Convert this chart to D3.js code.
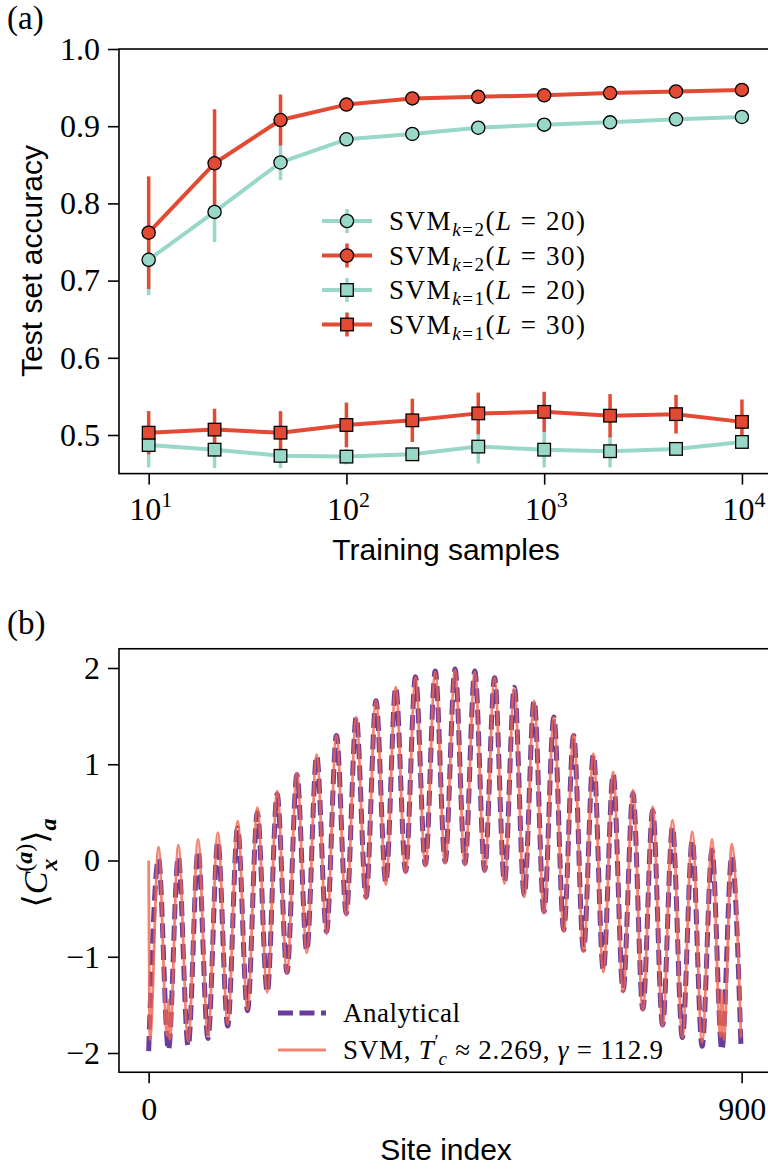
<!DOCTYPE html>
<html>
<head>
<meta charset="utf-8">
<script src="https://cdn.jsdelivr.net/npm/d3@7"></script>
<style>
  body { margin: 0; background: #fff; }
  svg { display: block; }
</style>
</head>
<body>
<svg id="chart" width="768" height="1170"></svg>
<script>
// ---- panel (a) data ----
const trainingSamples = [10, 21.54, 46.42, 100, 215.4, 464.2, 1000, 2154, 4642, 10000];
const accK2L20 = [0.727, 0.789, 0.853, 0.883, 0.890, 0.898, 0.902, 0.905, 0.909, 0.912];
const errK2L20 = [0.046, 0.039, 0.023, 0.006, 0.004, 0.004, 0.003, 0.003, 0.003, 0.003];
const accK2L30 = [0.762, 0.852, 0.908, 0.928, 0.936, 0.938, 0.940, 0.943, 0.945, 0.947];
const errK2L30 = [0.073, 0.070, 0.033, 0.005, 0.004, 0.003, 0.003, 0.003, 0.002, 0.002];
const accK1L20 = [0.487, 0.481, 0.473, 0.472, 0.475, 0.485, 0.481, 0.479, 0.482, 0.491];
const errK1L20 = [0.029, 0.024, 0.016, 0.010, 0.008, 0.022, 0.023, 0.021, 0.006, 0.005];
const accK1L30 = [0.503, 0.507, 0.503, 0.513, 0.519, 0.528, 0.530, 0.525, 0.527, 0.517];
const errK1L30 = [0.028, 0.027, 0.028, 0.029, 0.028, 0.027, 0.026, 0.028, 0.025, 0.029];
const yTicksA = [0.5, 0.6, 0.7, 0.8, 0.9, 1.0];
const xTicksA = [10, 100, 1000, 10000];
const xTickExpA = ["1", "2", "3", "4"];

// ---- panel (b) data: extrema ----
const troughSites = [0, 30, 60, 90, 120, 150, 180, 210, 240, 270, 300, 330, 360, 390, 420,
  450, 480, 510, 540, 570, 600, 630, 660, 690, 720, 750, 780, 810, 840, 870];
const peakSites = [15, 45, 75, 105, 135, 165, 195, 225, 255, 285, 315, 345, 375, 405, 435,
  465, 495, 525, 555, 585, 615, 645, 675, 705, 735, 765, 795, 825, 855, 885];
const analyticTroughs = [-1.98, -1.97, -1.93, -1.85, -1.72, -1.56, -1.37, -1.16, -0.94, -0.74,
  -0.55, -0.38, -0.23, -0.11, -0.04, -0.01, -0.03, -0.10, -0.22, -0.36,
  -0.53, -0.72, -0.93, -1.14, -1.35, -1.54, -1.71, -1.84, -1.93, -1.97];
const analyticPeaks = [0.02, 0.04, 0.10, 0.20, 0.34, 0.50, 0.69, 0.89, 1.09, 1.30,
  1.49, 1.66, 1.80, 1.91, 1.97, 1.99, 1.97, 1.90, 1.80, 1.66,
  1.49, 1.30, 1.10, 0.90, 0.70, 0.52, 0.35, 0.21, 0.11, 0.05];
const analyticEnd = [899, -1.94];
const svmTroughs = [0.00, -1.45, -1.88, -1.82, -1.70, -1.55, -1.37, -1.17, -0.96, -0.76,
  -0.57, -0.40, -0.25, -0.13, -0.06, -0.03, -0.05, -0.12, -0.24, -0.38,
  -0.55, -0.74, -0.95, -1.16, -1.37, -1.56, -1.72, -1.84, -1.89, -1.35];
const svmPeaks = [0.14, 0.16, 0.22, 0.29, 0.41, 0.55, 0.72, 0.91, 1.10, 1.30,
  1.49, 1.66, 1.80, 1.90, 1.96, 1.98, 1.96, 1.90, 1.79, 1.66,
  1.49, 1.31, 1.11, 0.92, 0.73, 0.56, 0.42, 0.30, 0.22, 0.17];
const svmExtraSites = [2, 28, 32, 868, 873, 899];
const svmExtraValues = [-1.86, -1.82, -1.86, -1.83, -1.86, -1.84];
const yTicksB = [-2, -1, 0, 1, 2];
const xTicksB = [0, 900];

const serif = '"Liberation Serif", "DejaVu Serif", serif';
const sans = '"Liberation Sans", "DejaVu Sans", sans-serif';
const teal = "#99d8c9", red = "#e34a33";
const purple = "#6a3d9a", salmon = "#f0654f";

const svg = d3.select("#chart");

function styleAxis(g) {
  g.select(".domain").remove();
  g.attr("font-family", serif).attr("font-size", 32);
  g.selectAll(".tick line").attr("stroke", "#000").attr("stroke-width", 1.6);
  g.selectAll(".tick text").attr("fill", "#000");
}

// ================= panel (a) =================
const xa = d3.scaleLog().domain([Math.pow(10, 0.85), Math.pow(10, 4.15)]).range([119, 771.6]);
const ya = d3.scaleLinear().domain([0.45, 1.0]).range([473.6, 49]);

svg.append("g")
  .attr("transform", "translate(119,0)")
  .call(d3.axisLeft(ya).tickValues(yTicksA).tickSize(11).tickPadding(8).tickFormat(d3.format(".1f")))
  .call(styleAxis);

svg.append("g")
  .attr("transform", "translate(0,473.6)")
  .call(d3.axisBottom(xa).tickValues(xTicksA).tickSize(11).tickFormat(""))
  .call(styleAxis);

const xlabA = svg.append("g");
xTicksA.forEach((t, i) => {
  const tx = xlabA.append("text")
    .attr("x", xa(t) + 2).attr("y", 520)
    .attr("text-anchor", "middle")
    .attr("font-family", serif).attr("font-size", 32);
  tx.append("tspan").text("10");
  tx.append("tspan").attr("font-size", 22).attr("dy", -13).text(xTickExpA[i]);
});

const seriesA = [
  { acc: accK2L20, err: errK2L20, color: teal, shape: "circle", k: "2", L: "20" },
  { acc: accK2L30, err: errK2L30, color: red, shape: "circle", k: "2", L: "30" },
  { acc: accK1L20, err: errK1L20, color: teal, shape: "square", k: "1", L: "20" },
  { acc: accK1L30, err: errK1L30, color: red, shape: "square", k: "1", L: "30" }
];

const plotA = svg.append("g");
// error bars first, markers stay on top
seriesA.forEach(s => {
  plotA.append("g").selectAll("line")
    .data(trainingSamples)
    .join("line")
    .attr("x1", d => xa(d)).attr("x2", d => xa(d))
    .attr("y1", (d, i) => ya(s.acc[i] - s.err[i]))
    .attr("y2", (d, i) => ya(s.acc[i] + s.err[i]))
    .attr("stroke", s.color).attr("stroke-width", 3.5);
});

const lineA = d3.line().x(d => xa(d[0])).y(d => ya(d[1]));

function drawMarker(g, shape, cx, cy, color) {
  if (shape === "circle") {
    g.append("circle").attr("cx", cx).attr("cy", cy).attr("r", 6.6)
      .attr("fill", color).attr("stroke", "#000").attr("stroke-width", 1.3);
  } else {
    g.append("rect").attr("x", cx - 6.3).attr("y", cy - 6.3).attr("width", 12.6).attr("height", 12.6)
      .attr("fill", color).attr("stroke", "#000").attr("stroke-width", 1.3);
  }
}

seriesA.forEach(s => {
  const pts = trainingSamples.map((d, i) => [d, s.acc[i]]);
  plotA.append("path").datum(pts)
    .attr("d", lineA)
    .attr("fill", "none").attr("stroke", s.color).attr("stroke-width", 4)
    .attr("stroke-linejoin", "round");
  const mg = plotA.append("g");
  pts.forEach(p => drawMarker(mg, s.shape, xa(p[0]), ya(p[1]), s.color));
});

// legend (a)
const legA = svg.append("g");
seriesA.forEach((s, i) => {
  const ry = 221 + i * 34.5;
  legA.append("line").attr("x1", 347).attr("x2", 347).attr("y1", ry - 12).attr("y2", ry + 12)
    .attr("stroke", s.color).attr("stroke-width", 3.5);
  legA.append("line").attr("x1", 322).attr("x2", 372).attr("y1", ry).attr("y2", ry)
    .attr("stroke", s.color).attr("stroke-width", 4);
  drawMarker(legA, s.shape, 347, ry, s.color);
  const t = legA.append("text").attr("x", 389).attr("y", ry + 9)
    .attr("font-family", serif).attr("font-size", 27)
    .attr("textLength", 196).attr("lengthAdjust", "spacing");
  t.append("tspan").text("SVM");
  t.append("tspan").attr("font-size", 19).attr("dy", 6).attr("font-style", "italic").text("k");
  t.append("tspan").attr("font-size", 19).text("=" + s.k);
  t.append("tspan").attr("dy", -6).text("(");
  t.append("tspan").attr("font-style", "italic").text("L");
  t.append("tspan").text(" = " + s.L + ")");
});

svg.append("rect").attr("x", 119).attr("y", 49).attr("width", 652.6).attr("height", 424.6)
  .attr("fill", "none").attr("stroke", "#000").attr("stroke-width", 1.6);

svg.append("text").attr("x", 7).attr("y", 29)
  .attr("font-family", serif).attr("font-size", 33).text("(a)");
svg.append("text")
  .attr("transform", "translate(42,261) rotate(-90)")
  .attr("text-anchor", "middle")
  .attr("font-family", sans).attr("font-size", 30).text("Test set accuracy");
svg.append("text").attr("x", 446).attr("y", 560)
  .attr("text-anchor", "middle")
  .attr("font-family", sans).attr("font-size", 30).text("Training samples");

// ================= panel (b) =================
const xb = d3.scaleLinear().domain([-45, 945]).range([119, 771.3]);
const yb = d3.scaleLinear().domain([-2.2, 2.2]).range([1072.25, 648.75]);

svg.append("g")
  .attr("transform", "translate(119,0)")
  .call(d3.axisLeft(yb).tickValues(yTicksB).tickSize(11).tickPadding(8)
    .tickFormat(d => d < 0 ? "\u2212" + Math.abs(d) : String(d)))
  .call(styleAxis);

svg.append("g")
  .attr("transform", "translate(0,1072.25)")
  .call(d3.axisBottom(xb).tickValues(xTicksB).tickSize(11).tickPadding(14))
  .call(styleAxis);

svg.append("clipPath").attr("id", "clipB")
  .append("rect").attr("x", 119).attr("y", 648.75).attr("width", 652.3).attr("height", 423.5);

const analyticPts = troughSites.map((s, i) => [s, analyticTroughs[i]])
  .concat(peakSites.map((s, i) => [s, analyticPeaks[i]]))
  .concat([analyticEnd])
  .sort((a, b) => a[0] - b[0]);
const svmPts = troughSites.map((s, i) => [s, svmTroughs[i]])
  .concat(peakSites.map((s, i) => [s, svmPeaks[i]]))
  .concat(svmExtraSites.map((s, i) => [s, svmExtraValues[i]]))
  .sort((a, b) => a[0] - b[0]);

const lineB = d3.line().x(d => xb(d[0])).y(d => yb(d[1])).curve(d3.curveMonotoneX);

const plotB = svg.append("g").attr("clip-path", "url(#clipB)");
plotB.append("path").datum(analyticPts)
  .attr("d", lineB)
  .attr("fill", "none").attr("stroke", purple).attr("stroke-width", 5)
  .attr("stroke-dasharray", "15,6.5");
plotB.append("path").datum(svmPts)
  .attr("d", lineB)
  .attr("fill", "none").attr("stroke", salmon).attr("stroke-width", 2.8)
  .attr("stroke-opacity", 0.8).attr("stroke-linejoin", "round");

svg.append("rect").attr("x", 119).attr("y", 648.75).attr("width", 652.3).attr("height", 423.5)
  .attr("fill", "none").attr("stroke", "#000").attr("stroke-width", 1.6);

// legend (b)
const legB = svg.append("g");
legB.append("line").attr("x1", 278).attr("x2", 326).attr("y1", 1013).attr("y2", 1013)
  .attr("stroke", purple).attr("stroke-width", 5).attr("stroke-dasharray", "15,6.5");
legB.append("text").attr("x", 343).attr("y", 1022)
  .attr("font-family", serif).attr("font-size", 27)
  .attr("textLength", 117).attr("lengthAdjust", "spacing").text("Analytical");
legB.append("line").attr("x1", 278).attr("x2", 326).attr("y1", 1050).attr("y2", 1050)
  .attr("stroke", salmon).attr("stroke-width", 2.8).attr("stroke-opacity", 0.8);
const tb = legB.append("text").attr("x", 343).attr("y", 1059)
  .attr("font-family", serif).attr("font-size", 27)
  .attr("textLength", 320).attr("lengthAdjust", "spacing");
tb.append("tspan").text("SVM, ");
tb.append("tspan").attr("font-style", "italic").text("T");
tb.append("tspan").attr("font-size", 19).attr("dy", -11).text("\u2032");
tb.append("tspan").attr("font-size", 19).attr("font-style", "italic").attr("dx", -1).attr("dy", 17).text("c");
tb.append("tspan").attr("dy", -6).text(" \u2248 2.269, ");
tb.append("tspan").attr("font-style", "italic").text("\u03b3");
tb.append("tspan").text(" = 112.9");

svg.append("text").attr("x", 7).attr("y", 634)
  .attr("font-family", serif).attr("font-size", 33).text("(b)");
svg.append("text").attr("x", 446).attr("y", 1160)
  .attr("text-anchor", "middle")
  .attr("font-family", sans).attr("font-size", 30).text("Site index");

const yl = svg.append("text")
  .attr("transform", "translate(47,863) rotate(-90)")
  .attr("text-anchor", "middle")
  .attr("font-family", serif).attr("font-size", 34);
yl.append("tspan").text("\u27e8");
yl.append("tspan").attr("font-style", "italic").text("C");
yl.append("tspan").attr("font-size", 24).attr("dy", -15).text("(");
yl.append("tspan").attr("font-size", 24).attr("font-style", "italic").attr("font-weight", "bold").text("a");
yl.append("tspan").attr("font-size", 24).text(")");
yl.append("tspan").attr("font-size", 24).attr("font-style", "italic").attr("font-weight", "bold")
  .attr("dx", -27).attr("dy", 25).text("x");
yl.append("tspan").attr("dx", 15).attr("dy", -10).text("\u27e9");
yl.append("tspan").attr("font-size", 24).attr("font-style", "italic").attr("font-weight", "bold")
  .attr("dy", 9).text("a");
</script>
</body>
</html>
